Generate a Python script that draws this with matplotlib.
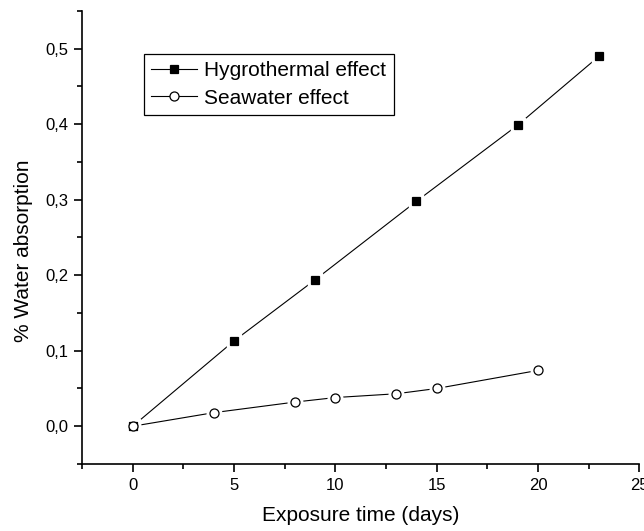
import numpy as np
import matplotlib
matplotlib.use('Agg')
import matplotlib.pyplot as plt
from matplotlib.ticker import MultipleLocator, FuncFormatter
from matplotlib.legend_handler import HandlerTuple

plt.rcParams['font.family'] = ['Liberation Sans', 'DejaVu Sans']

# data
hygro_days = [0, 5, 9, 14, 19, 23]
hygro_abs = [0.0, 0.113, 0.194, 0.298, 0.399, 0.490]

sea_days = [0, 4, 8, 10, 13, 15, 20]
sea_abs = [0.0, 0.018, 0.032, 0.038, 0.043, 0.050, 0.074]

fig = plt.figure(figsize=(6.44, 5.31), dpi=100)
ax = fig.add_axes([0.1273, 0.1262, 0.8657, 0.8531])

lw = 0.8

def draw(xs, ys, marker, face, ms):
    line, = ax.plot(xs, ys, color='black', lw=lw, zorder=2)
    # white halo gives the gap between line and marker
    ax.plot(xs, ys, ls='none', marker=marker, ms=ms + 4,
            mfc='white', mec='white', zorder=3)
    mk, = ax.plot(xs, ys, ls='none', marker=marker, ms=ms,
                  mfc=face, mec='black', mew=0.9, zorder=4)
    return (line, mk)

h1 = draw(hygro_days, hygro_abs, 's', 'black', 6.3)
h2 = draw(sea_days, sea_abs, 'o', 'white', 6.5)

ax.set_xlim(-2.5, 25)
ax.set_ylim(-0.05, 0.55)

ax.xaxis.set_major_locator(MultipleLocator(5))
ax.xaxis.set_minor_locator(MultipleLocator(2.5))
ax.yaxis.set_major_locator(MultipleLocator(0.1))
ax.yaxis.set_minor_locator(MultipleLocator(0.05))
ax.yaxis.set_major_formatter(FuncFormatter(lambda v, p: f'{v:.1f}'.replace('.', ',').replace('-0,0', '0,0')))

for s in ['top', 'right']:
    ax.spines[s].set_visible(False)
for s in ['left', 'bottom']:
    ax.spines[s].set_linewidth(1.2)

ax.tick_params(which='major', direction='out', length=5.8, width=1.2, labelsize=12)
ax.tick_params(which='minor', direction='out', length=3.6, width=1.2)
ax.tick_params(axis='x', which='major', pad=4.5)
ax.tick_params(axis='y', which='major', pad=4)

ax.set_xlabel('Exposure time (days)', fontsize=15)
ax.set_ylabel('% Water absorption', fontsize=15)
ax.xaxis.set_label_coords(0.5, -0.093)
ax.yaxis.set_label_coords(-0.088, 0.47)

leg = fig.legend([h1, h2], ['Hygrothermal effect', 'Seawater effect'],
                 handler_map={tuple: HandlerTuple(ndivide=1)},
                 loc='upper left', bbox_to_anchor=(144 / 644, 1 - 54 / 531),
                 borderaxespad=0, fontsize=15, handlelength=2.2,
                 handletextpad=0.34, borderpad=0.35, labelspacing=0.4,
                 fancybox=False, framealpha=1, edgecolor='black')
leg.get_frame().set_linewidth(0.9)

fig.savefig('out.png', dpi=100)
